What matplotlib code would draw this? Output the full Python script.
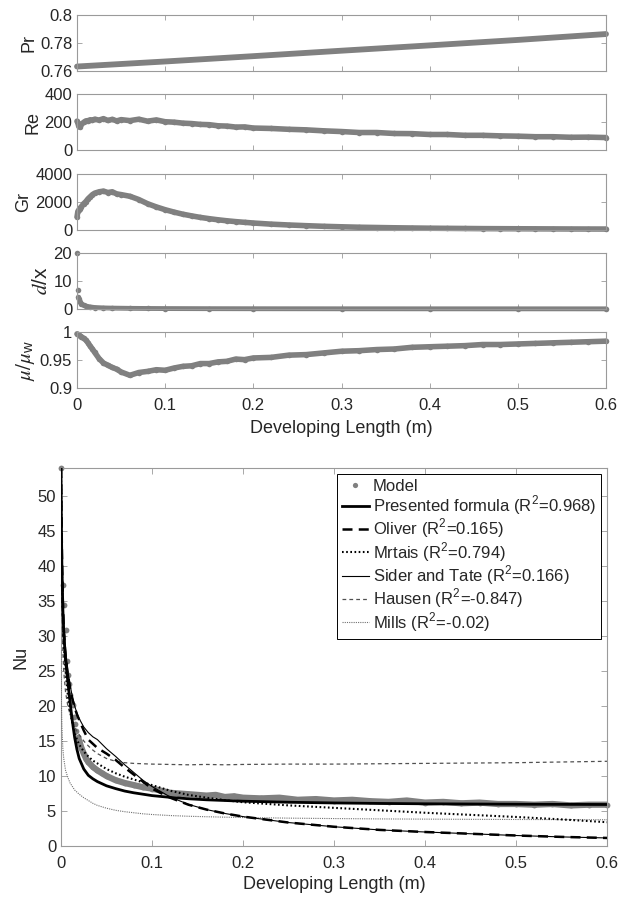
import matplotlib
matplotlib.use('Agg')
import matplotlib.pyplot as plt

plt.rcParams['font.family'] = ['Liberation Sans', 'DejaVu Sans']
plt.rcParams['mathtext.fontset'] = 'stix'
plt.rcParams['mathtext.default'] = 'it'

# developing length grid for the upper panels (m)
x_dev = [0, 0.001, 0.002, 0.003, 0.005, 0.0075, 0.01, 0.0125, 0.015, 0.0175,
         0.02, 0.025, 0.03, 0.035, 0.04, 0.045, 0.05, 0.06, 0.07, 0.08,
         0.09, 0.10, 0.11, 0.12, 0.13, 0.14, 0.15, 0.16, 0.17, 0.18,
         0.19, 0.20, 0.22, 0.24, 0.26, 0.28, 0.30, 0.32, 0.34, 0.36,
         0.38, 0.40, 0.42, 0.44, 0.46, 0.48, 0.50, 0.52, 0.54, 0.56,
         0.58, 0.60]

pr_x = [0, 0.1, 0.2, 0.3, 0.4, 0.5, 0.6]
pr_vals = [0.7632, 0.7668, 0.7706, 0.7745, 0.7783, 0.7822, 0.7864]

re_vals = [208, 195, 170, 165, 185, 200, 210, 212, 218, 214,
           222, 216, 226, 213, 221, 210, 219, 212, 222, 208,
           217, 204, 201, 194, 191, 185, 183, 175, 173, 166,
           167, 159, 156, 150, 146, 139, 134, 127, 127, 120,
           119, 113, 113, 107, 107, 103, 101, 97, 97, 93,
           94, 91]

gr_vals = [900, 1300, 1400, 1500, 1650, 1850, 2000, 2200, 2350, 2500,
           2600, 2700, 2750, 2650, 2700, 2550, 2500, 2380, 2150, 1850,
           1620, 1420, 1250, 1100, 980, 870, 780, 700, 630, 570,
           520, 470, 390, 330, 280, 235, 200, 170, 150, 130,
           115, 100, 90, 80, 70, 65, 60, 55, 50, 45,
           42, 40]

dx_x = [0.0003, 0.001, 0.0017, 0.0025, 0.0035, 0.005, 0.0075, 0.01, 0.015, 0.02,
        0.03, 0.04, 0.06, 0.08, 0.1, 0.15, 0.2, 0.3, 0.4, 0.5, 0.6]
dx_vals = [20, 6.7, 4.1, 3.4, 2.6, 1.9, 1.3, 1.0, 0.7, 0.5,
           0.35, 0.28, 0.2, 0.15, 0.12, 0.08, 0.06, 0.04, 0.03, 0.025, 0.02]

mu_vals = [0.997, 0.996, 0.995, 0.994, 0.992, 0.989, 0.986, 0.981, 0.975, 0.970,
           0.964, 0.953, 0.945, 0.941, 0.937, 0.934, 0.929, 0.923, 0.928, 0.930,
           0.933, 0.932, 0.936, 0.939, 0.940, 0.944, 0.944, 0.947, 0.948, 0.952,
           0.951, 0.954, 0.955, 0.959, 0.960, 0.963, 0.966, 0.967, 0.969, 0.970,
           0.973, 0.974, 0.975, 0.976, 0.978, 0.978, 0.979, 0.980, 0.981, 0.982,
           0.983, 0.984]

# Nusselt number panel
model_x = [0, 0.0025, 0.0035, 0.0055, 0.0063, 0.008, 0.0088, 0.0098, 0.011, 0.0127,
           0.014, 0.0155, 0.017, 0.0185, 0.02, 0.0225, 0.025, 0.0275, 0.03, 0.035,
           0.04, 0.045, 0.05, 0.06, 0.07, 0.08, 0.09, 0.10, 0.11, 0.12,
           0.13, 0.14, 0.15, 0.16, 0.17, 0.18, 0.19, 0.20, 0.22, 0.24,
           0.26, 0.28, 0.30, 0.32, 0.34, 0.36, 0.38, 0.40, 0.42, 0.44,
           0.46, 0.48, 0.50, 0.52, 0.54, 0.56, 0.58, 0.60]
model_nu = [54, 37.3, 34.5, 30.8, 26.5, 24.4, 23.2, 21.6, 20.6, 20.1,
            18.5, 17.5, 16.4, 15.6, 15.0, 14.0, 13.2, 12.5, 12.0, 11.3,
            10.8, 10.4, 10.0, 9.4, 9.0, 8.7, 8.4, 8.2, 7.9, 7.6,
            7.5, 7.4, 7.3, 7.2, 7.3, 7.0, 7.1, 6.9, 6.8, 6.9,
            6.6, 6.7, 6.5, 6.6, 6.4, 6.3, 6.5, 6.2, 6.3, 6.1,
            6.2, 6.0, 6.0, 5.9, 6.0, 5.8, 5.9, 5.9]

nu_x = [0, 0.0005, 0.001, 0.002, 0.003, 0.005, 0.0075, 0.01, 0.0125, 0.015,
        0.0175, 0.02, 0.025, 0.03, 0.035, 0.04, 0.05, 0.06, 0.07, 0.08,
        0.09, 0.10, 0.12, 0.14, 0.16, 0.18, 0.20, 0.25, 0.30, 0.35,
        0.40, 0.45, 0.50, 0.55, 0.60]
presented = [54, 45, 40, 34, 30.5, 26.5, 23.5, 20.5, 17.8, 15.5,
             13.8, 12.5, 11.0, 10.1, 9.6, 9.2, 8.6, 8.2, 7.85, 7.6,
             7.4, 7.2, 6.95, 6.75, 6.6, 6.5, 6.4, 6.25, 6.15, 6.08,
             6.03, 6.0, 5.97, 5.95, 5.93]
oliver = [54, 48, 42, 35, 31, 27, 24.5, 22.5, 21, 19.8,
          18.8, 18, 16.5, 15.2, 14.6, 14.0, 13.2, 12.3, 11.2, 10.2,
          9.2, 8.2, 6.9, 5.9, 5.2, 4.65, 4.2, 3.35, 2.75, 2.3,
          2.0, 1.75, 1.5, 1.3, 1.15]
mrtais = [54, 46, 40, 33, 29, 25, 21.5, 19.2, 17.5, 16.2,
          15.2, 14.5, 13.5, 12.8, 12.2, 11.8, 11.0, 10.4, 9.9, 9.5,
          9.1, 8.7, 7.9, 7.3, 6.9, 6.55, 6.25, 5.8, 5.45, 5.1,
          4.75, 4.45, 4.15, 3.8, 3.4]
sider = [54, 48, 43, 36, 32, 28, 25, 23, 21.3, 20,
         19, 18.2, 17, 16.2, 15.6, 15.2, 13.9, 12.8, 11.6, 10.5,
         9.4, 8.5, 7.0, 5.95, 5.2, 4.65, 4.2, 3.35, 2.75, 2.3,
         2.0, 1.75, 1.5, 1.3, 1.15]
hausen = [50, 40, 34, 28, 25, 22, 20, 18.8, 17.8, 17,
          16.4, 15.9, 15, 14.3, 13.7, 13.2, 12.5, 12.1, 11.9, 11.8,
          11.75, 11.7, 11.65, 11.6, 11.65, 11.6, 11.65, 11.7, 11.7, 11.75,
          11.8, 11.85, 11.9, 12.0, 12.1]
mills = [28, 20, 17, 14, 12.5, 10.8, 9.8, 9.0, 8.5, 8.0,
         7.7, 7.4, 6.9, 6.5, 6.1, 5.8, 5.4, 5.1, 4.9, 4.75,
         4.6, 4.5, 4.35, 4.25, 4.18, 4.12, 4.07, 3.98, 3.92, 3.87,
         3.84, 3.81, 3.79, 3.77, 3.75]

sq = r'$^\mathregular{2}$'
labels = ['Model',
          'Presented formula (R' + sq + '=0.968)',
          'Oliver (R' + sq + '=0.165)',
          'Mrtais (R' + sq + '=0.794)',
          'Sider and Tate (R' + sq + '=0.166)',
          'Hausen (R' + sq + '=-0.847)',
          'Mills (R' + sq + '=-0.02)']

gray = '#808080'
spine_c = '#9a9a9a'
text_c = '#262626'
xticks = [0, 0.1, 0.2, 0.3, 0.4, 0.5, 0.6]


def style(ax, ticklen):
    for s in ax.spines.values():
        s.set_color(spine_c)
        s.set_linewidth(0.8)
    ax.tick_params(direction='in', top=True, right=True, length=ticklen, width=0.6,
                   color=spine_c, labelsize=12, labelcolor=text_c, pad=3.5)
    ax.tick_params(axis='x', pad=7)
    ax.set_xlim(0, 0.6)
    ax.set_xticks(xticks)
    ax.set_xticklabels(['0', '0.1', '0.2', '0.3', '0.4', '0.5', '0.6'])


def band(ax, x, y, lw=4, ms=4):
    ax.plot(x, y, '-', color=gray, lw=lw, solid_capstyle='round', zorder=2, clip_on=False)
    ax.plot(x, y, 'o', color=gray, ms=ms, mew=0, zorder=2, clip_on=False)


fig = plt.figure(figsize=(6.2, 8.98), dpi=100)
W, H = 620.0, 898.0
tops = [15, 94.3, 173.6, 252.9, 332.2]
ph = 56
axs = []
for t in tops:
    axs.append(fig.add_axes([77 / W, 1 - (t + ph) / H, 529 / W, ph / H]))

ax = axs[0]
ax.plot(pr_x, pr_vals, '-', color=gray, lw=4.2, solid_capstyle='round', clip_on=False)
ax.set_ylim(0.76, 0.8)
ax.set_yticks([0.76, 0.78, 0.8])
ax.set_yticklabels(['0.76', '0.78', '0.8'])
ax.set_ylabel('Pr', fontsize=13, color=text_c, labelpad=2)

ax = axs[1]
band(ax, x_dev, re_vals)
ax.set_ylim(0, 400)
ax.set_yticks([0, 200, 400])
ax.set_ylabel('Re', fontsize=13, color=text_c, labelpad=2)

ax = axs[2]
band(ax, x_dev, gr_vals)
ax.set_ylim(0, 4000)
ax.set_yticks([0, 2000, 4000])
ax.set_ylabel('Gr', fontsize=13, color=text_c, labelpad=2)

ax = axs[3]
ax.plot(dx_x[:2], dx_vals[:2], 'o', color=gray, ms=4, mew=0, clip_on=False)
band(ax, dx_x[2:], dx_vals[2:], lw=3.5, ms=4)
ax.set_ylim(0, 20)
ax.set_yticks([0, 10, 20])
ax.set_ylabel(r'$d$/x', fontsize=15, color=text_c, labelpad=2)

ax = axs[4]
band(ax, x_dev, mu_vals)
ax.set_ylim(0.9, 1)
ax.set_yticks([0.9, 0.95, 1])
ax.set_yticklabels(['0.9', '0.95', '1'])
ax.set_ylabel(r'$\mu/\mu_\mathregular{w}$', fontsize=15, color=text_c, labelpad=2)

for i, a in enumerate(axs):
    style(a, 3.5)
    if i < 4:
        a.tick_params(labelbottom=False)
axs[4].set_xlabel('Developing Length (m)', fontsize=13, color=text_c, labelpad=5)

# Nu panel
ax = fig.add_axes([61 / W, 1 - 846 / H, 546 / W, 378 / H])
style(ax, 4.5)
ax.plot(model_x, model_nu, 'o', color=gray, ms=4.2, mew=0, clip_on=False, zorder=2,
        label=labels[0])
ax.plot(model_x[14:], model_nu[14:], '-', color=gray, lw=4.5, zorder=2)
ax.plot(nu_x, presented, '-', color='black', lw=2.0, zorder=5, label=labels[1])
ax.plot(nu_x, oliver, color='black', lw=1.8, dashes=(4, 2.5), zorder=4, label=labels[2])
ax.plot(nu_x, mrtais, color='black', lw=1.5, dashes=(0.8, 1.2), zorder=4, label=labels[3])
ax.plot(nu_x, sider, '-', color='black', lw=0.8, zorder=4, label=labels[4])
ax.plot(nu_x, hausen, color='#505050', lw=0.9, dashes=(3, 2.5), zorder=3, label=labels[5])
ax.plot(nu_x, mills, color='#707070', lw=0.8, dashes=(1, 1), zorder=3, label=labels[6])
ax.set_ylim(0, 54)
ax.set_yticks(list(range(0, 55, 5)))
ax.set_ylabel('Nu', fontsize=13, color=text_c, labelpad=6)
ax.set_xlabel('Developing Length (m)', fontsize=13, color=text_c, labelpad=4)

leg = ax.legend(loc='upper right', fontsize=12, frameon=True, fancybox=False,
                edgecolor='black', framealpha=1, borderaxespad=0.35,
                handlelength=1.6, handletextpad=0.25, labelspacing=0.02,
                borderpad=0.3, markerscale=0.9)
leg.get_frame().set_linewidth(0.7)
for t in leg.get_texts():
    t.set_color(text_c)

fig.savefig('out.png', dpi=100)
